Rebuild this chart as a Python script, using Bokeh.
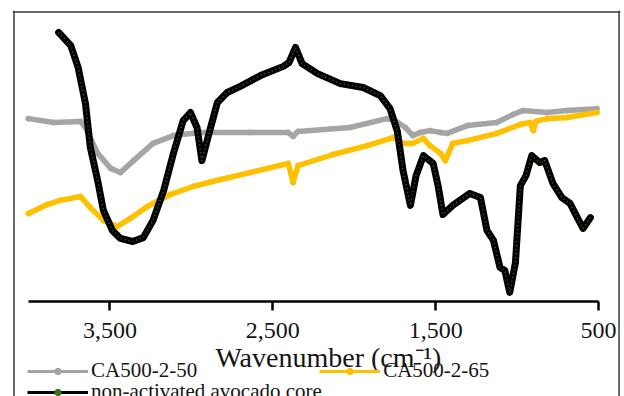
from bokeh.plotting import figure
from bokeh.models import (Range1d, LinearAxis, FixedTicker, Span, Label,
                          Legend, LegendItem)
from bokeh.embed import file_html
from bokeh.resources import INLINE

# FTIR spectra: wavenumber (cm-1) vs. transmittance (arbitrary %)
wn_gray = [4000, 3845, 3680, 3650, 3575, 3495, 3435, 3355, 3235, 3110, 2945,
           2640, 2405, 2375, 2345, 2025, 1800, 1750, 1685, 1640, 1595, 1535,
           1470, 1430, 1305, 1125, 1025, 965, 815, 695, 510]
t_gray = [64.7, 63.3, 63.7, 61.5, 52.2, 46.8, 45.3, 49.6, 55.8, 58.6, 59.7,
          59.7, 59.7, 58.3, 60.1, 61.5, 64.7, 64.0, 61.5, 58.6, 59.7, 60.4,
          59.7, 59.4, 62.2, 63.3, 66.2, 67.6, 66.9, 67.6, 68.3]

wn_yel = [4000, 3885, 3805, 3680, 3620, 3540, 3455, 3375, 3270, 3130, 2990,
          2820, 2640, 2405, 2375, 2345, 2130, 1920, 1760, 1700, 1640, 1575,
          1535, 1470, 1440, 1395, 1305, 1125, 980, 920, 900, 885, 815, 695, 510]
t_yel = [30.6, 33.8, 35.3, 36.7, 32.7, 28.1, 25.9, 28.8, 33.1, 37.4, 40.3,
         42.8, 45.3, 48.6, 41.7, 47.8, 51.8, 55.0, 57.9, 55.8, 55.8, 57.6,
         55.0, 52.2, 49.6, 55.8, 56.8, 59.4, 62.6, 63.3, 60.4, 63.7, 64.7,
         65.1, 66.9]

wn_black = [3815, 3740, 3695, 3650, 3620, 3575, 3540, 3485, 3435, 3360, 3295,
            3235, 3170, 3110, 3050, 3005, 2965, 2935, 2895, 2840, 2780, 2700,
            2575, 2435, 2400, 2360, 2320, 2225, 2085, 1945, 1840, 1780, 1735,
            1700, 1655, 1620, 1575, 1515, 1485, 1455, 1395, 1290, 1225, 1185,
            1145, 1105, 1075, 1045, 1010, 980, 945, 910, 860, 830, 780, 725,
            675, 630, 595, 550]
t_black = [95.7, 91.0, 83.1, 70.1, 54.3, 42.4, 31.7, 24.5, 21.6, 20.5, 21.9,
           28.1, 38.8, 52.2, 64.0, 66.9, 61.5, 49.6, 58.6, 70.5, 74.1, 76.3,
           80.2, 83.5, 84.9, 90.3, 84.5, 80.9, 77.3, 75.9, 73.0, 68.3, 60.1,
           46.0, 33.5, 44.2, 51.4, 48.6, 40.6, 30.2, 33.5, 37.8, 36.3, 24.5,
           20.9, 11.2, 10.1, 2.2, 12.9, 40.6, 44.2, 51.4, 48.9, 49.6, 41.4,
           36.3, 34.2, 29.1, 25.2, 29.1]

series_names = ["CA500-2-50", "CA500-2-65", "non-activated avocado core"]
tick_values = [3500, 2500, 1500, 500]
tick_labels = ["3,500", "2,500", "1,500", "500"]
x_title = "Wavenumber (cm\u207b\u00b9)"

GRAY, GOLD, BLACK, DOT = "#a5a5a5", "#ffc000", "#000000", "#3f6f22"
SERIF = "Liberation Serif"
TEXT = "#151515"

p = figure(width=624, height=396, output_backend="svg", toolbar_location=None,
           x_range=Range1d(4098, 365), y_range=Range1d(-35.25, 103.6),
           x_axis_location=None, y_axis_location=None,
           min_border_left=12, min_border_right=4,
           min_border_top=10, min_border_bottom=0)
p.grid.grid_line_color = None
p.outline_line_color = None
p.background_fill_color = "white"
p.border_fill_color = "white"

# chart-area frame (left, right, top edges)
for loc, dim in [(4089, "height"), (374, "height"), (103.06, "width")]:
    p.add_layout(Span(location=loc, dimension=dim, line_color="#3a3a3a",
                      line_width=1.5))

# legend keys: thin line + centre dot, drawn first so the spectra cover them
def key(x, y, color, dot):
    ln = p.line(x, y, line_color=color, line_width=3)
    mk = p.scatter(x, y, marker="circle", size=5, fill_color=dot,
                   line_color=dot)
    return [ln, mk]

k_gray = key(wn_gray, t_gray, GRAY, GRAY)
k_yel = key(wn_yel, t_yel, GOLD, GOLD)
k_blk = key(wn_black, t_black, BLACK, DOT)

# spectra
p.line(wn_gray, t_gray, line_color=GRAY, line_width=5.5,
       line_join="round", line_cap="round")
p.line(wn_yel, t_yel, line_color=GOLD, line_width=5.5,
       line_join="round", line_cap="round")
p.line(wn_black, t_black, line_color=BLACK, line_width=7,
       line_join="round", line_cap="round")
p.line(wn_black, t_black, line_color=DOT, line_width=1.5, line_dash="1 3")

# x axis drawn across the plot at the baseline
xaxis = LinearAxis(fixed_location=-0.9, bounds=(500, 4000),
                   ticker=FixedTicker(ticks=tick_values))
xaxis.major_label_overrides = dict(zip(tick_values, tick_labels))
xaxis.axis_line_color = "black"
xaxis.axis_line_width = 2.5
xaxis.major_tick_line_color = "black"
xaxis.major_tick_line_width = 2.5
xaxis.major_tick_out = 9
xaxis.major_tick_in = 0
xaxis.minor_tick_out = 0
xaxis.minor_tick_in = 0
xaxis.major_label_standoff = 13
xaxis.major_label_text_font = SERIF
xaxis.major_label_text_font_size = "24px"
xaxis.major_label_text_color = TEXT
p.add_layout(xaxis, "below")

p.add_layout(Label(x=2852, y=-21.3, text=x_title, text_font=SERIF,
                   text_font_size="28px", text_color=TEXT,
                   text_align="left", text_baseline="alphabetic"))

def make_legend(items, loc, spacing=0):
    lg = Legend(items=items, location=loc, orientation="horizontal",
                spacing=spacing, padding=0, margin=0, glyph_width=61,
                glyph_height=16, label_standoff=3, label_height=16,
                border_line_color=None, background_fill_alpha=0,
                label_text_font=SERIF, label_text_font_size="21px",
                label_text_color=TEXT)
    p.add_layout(lg, "center")
    return lg

make_legend([LegendItem(label=series_names[0], renderers=k_gray),
             LegendItem(label=series_names[1], renderers=k_yel)],
            (15, 13), spacing=122)
make_legend([LegendItem(label=series_names[2], renderers=k_blk)], (15, -8))

open("out.html", "w").write(file_html(p, INLINE))
